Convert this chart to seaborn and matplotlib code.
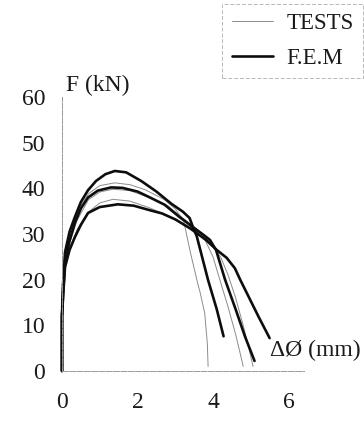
import matplotlib
matplotlib.use('Agg')
import matplotlib.pyplot as plt
from matplotlib.lines import Line2D
import seaborn as sns
import pandas as pd

# F.E.M curves (thick)
fem1_x=[0,0.0,0.02,0.08,0.2,0.34,0.5,0.69,0.9,1.15,1.4,1.7,2.1,2.5,2.9,3.2,3.38,3.47,3.57,3.87,4.1,4.28]
fem1_y=[0,12,18,26,30.5,33.7,37,39.6,41.6,43.1,43.8,43.5,41.6,39.3,36.6,34.9,33.5,31.5,29.5,19.9,13.5,7.6]
fem2_x=[0,0.0,0.03,0.08,0.2,0.34,0.5,0.69,0.95,1.3,1.6,2.0,2.33,2.72,3.1,3.47,3.75,3.92,4.08,4.32,4.6,4.85,5.1]
fem2_y=[0,12,17,24,28.5,32.4,35.6,38,39.5,40.2,40.1,39.3,38,36.4,33.8,31.5,29.8,28.7,26.5,20,13.5,7.5,2.2]
fem3_x=[0,0.0,0.03,0.08,0.2,0.34,0.5,0.69,1.0,1.48,1.9,2.33,2.65,3.0,3.4,3.8,4.1,4.36,4.58,4.72,4.9,5.2,5.5]
fem3_y=[0,12,16.5,22.8,26.5,29.3,32,34.6,35.9,36.5,36.2,35.2,34.5,33.2,31.2,28.8,26.5,24.8,22.5,20,17,12,7.2]

# TESTS curves (thin)
testa_x=[0,0.02,0.08,0.2,0.4,0.7,1.0,1.4,1.8,2.2,2.7,3.0,3.22,3.4,3.6,3.65,3.78,3.85,3.87]
testa_y=[0,17,25,30,35,38.8,40.6,41.2,40.8,39.7,37.6,35.5,33,26,19,17.5,12.7,6,1]
testb_x=[0,0.02,0.08,0.2,0.4,0.7,1.0,1.35,1.8,2.3,2.8,3.2,3.5,3.8,4.0,4.18,4.4,4.6,4.73,4.8]
testb_y=[0,16,22,26.5,31,34.8,36.8,37.6,37.2,35.8,34,32.3,31,28.5,25,20,14,8,3.5,1]
testc_x=[0,0.02,0.08,0.2,0.4,0.7,1.0,1.35,1.8,2.3,2.8,3.2,3.5,3.9,4.2,4.4,4.6,4.8,4.95,5.06]
testc_y=[0,15,23.5,28,33,37.5,39.2,39.8,39.5,38,36.2,33.5,31.5,28.5,25,21,16,10,5,1]

x_ticks=[0,2,4,6]
y_ticks=[0,10,20,30,40,50,60]

curves=[('TESTS','A',testa_x,testa_y),('TESTS','B',testb_x,testb_y),('TESTS','C',testc_x,testc_y),
        ('F.E.M','1',fem1_x,fem1_y),('F.E.M','2',fem2_x,fem2_y),('F.E.M','3',fem3_x,fem3_y)]

sns.set_style('white')
plt.rcParams['font.family']=['Liberation Serif','DejaVu Serif']
fig=plt.figure(figsize=(3.64,4.21),dpi=100)
ax=fig.add_axes([62/364,50/421,241.6/364,274/421])

for kind,name,xs,ys in curves:
    df=pd.DataFrame({'x':xs,'F':ys})
    if kind=='TESTS':
        sns.lineplot(data=df,x='x',y='F',sort=False,estimator=None,color='0.55',lw=0.7,ax=ax)
    else:
        sns.lineplot(data=df,x='x',y='F',sort=False,estimator=None,color='0.05',lw=1.9,ax=ax)
for ln in ax.lines:
    ln.set_clip_on(False)
    ln.set_solid_capstyle('round')
    ln.set_solid_joinstyle('round')

ax.set_xlim(0,6.4)
ax.set_ylim(0,60)
ax.set_xticks(x_ticks)
ax.set_yticks(y_ticks)
ax.set_xlabel('')
ax.set_ylabel('')
sns.despine(ax=ax)
for s in ['left','bottom']:
    ax.spines[s].set_color('0.6')
    ax.spines[s].set_linewidth(0.7)
    ax.spines[s].set_linestyle((0,(6,1.5)))
ax.tick_params(axis='both',direction='inout',length=6,width=0.7,color='0.55',labelsize=17,labelcolor='0.1')
ax.tick_params(axis='x',pad=12)
ax.tick_params(axis='y',pad=9)

ax.text(0.1,62.5,'F (kN)',fontsize=17,va='center',ha='left',color='0.1')
ax.text(5.5,4.6,'ΔØ (mm)',fontsize=17,va='center',ha='left',color='0.1')

handles=[Line2D([],[],color='0.55',lw=0.7),Line2D([],[],color='0.05',lw=1.9)]
leg=fig.legend(handles,['TESTS','F.E.M'],loc='upper right',bbox_to_anchor=(363/364,1-4/421),
               fontsize=16.5,frameon=True,fancybox=False,handlelength=1.8,handletextpad=0.6,
               labelspacing=0.6,borderpad=0.4,borderaxespad=0)
fr=leg.get_frame()
fr.set_edgecolor('0.65')
fr.set_linewidth(0.7)
fr.set_linestyle((0,(4,2)))
for t in leg.get_texts():
    t.set_color('0.1')

fig.savefig('out.png',dpi=100)
